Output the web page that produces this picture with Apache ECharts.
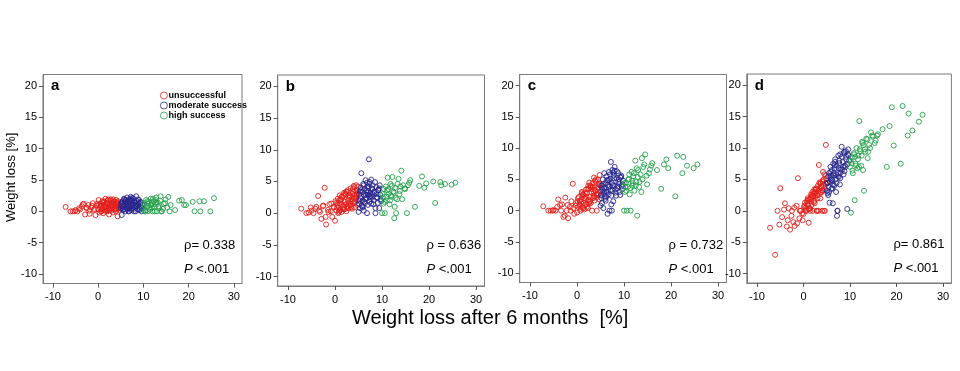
<!DOCTYPE html>
<html>
<head>
<meta charset="utf-8">
<script src="https://cdn.jsdelivr.net/npm/echarts@6/dist/echarts.min.js"></script>
<style>html,body{margin:0;padding:0;background:#fff;}#c{width:960px;height:371px;}</style>
</head>
<body>
<div id="c"></div>
<script>
// ---- data ----
const panelLetters = ['a', 'b', 'c', 'd'];
const rhoTexts = ['ρ= 0.338', 'ρ = 0.636', 'ρ = 0.732', 'ρ= 0.861'];
const pTexts = ['<.001', '<.001', '<.001', '<.001'];
const groupNames = ['unsuccessful', 'moderate success', 'high success'];
const xTicks = [-10, 0, 10, 20, 30];
const yTicks = [-10, -5, 0, 5, 10, 15, 20];

// weight loss after 6 months (x), shared by all panels
const xRed = [-7.2,-6.1,-5.6,-5.0,-4.6,-4.0,-3.6,-3.2,-2.9,-2.5,-2.2,-1.9,-1.5,-1.2,-0.9,-0.6,-0.3,0.0,0.1,0.3,0.4,0.6,0.7,0.9,1.0,1.1,1.3,1.4,1.6,1.7,1.9,2.0,2.1,2.3,2.4,2.5,2.7,2.8,2.9,3.1,3.2,3.3,3.5,3.6,3.7,3.9,4.0,4.1,4.2,4.3,4.4,4.5,4.6,4.7,4.8,4.9,0.5,1.5,2.6,3.8,
  0.2,0.8,1.2,1.8,2.2,2.6,3.0,3.4,3.8,4.2,4.6,0.6,1.0,1.4,2.0,2.4,2.8,3.2,3.6,4.0,4.4,4.8,-0.2,-0.8,-1.4,-2.0,-2.6,-3.4,-4.2,-5.2,0.9,1.7,2.5,3.3,4.1,4.9,1.3,2.1,2.9,3.7];
const xBlue = [5.0,5.1,5.2,5.3,5.4,5.5,5.6,5.7,5.8,5.9,6.0,6.1,6.2,6.3,6.4,6.5,6.6,6.7,6.8,6.9,7.0,7.1,7.2,7.3,7.4,7.5,7.6,7.7,7.8,7.9,8.0,8.2,8.4,8.6,8.8,9.0,9.2,9.4,9.6,9.8,
  5.2,5.5,5.8,6.1,6.4,6.7,7.0,7.3,7.6,7.9,8.2,8.5,8.8,9.1,9.4,9.7,5.3,5.9,6.5,7.1,7.7,8.3,8.9,9.5,6.2,6.8,7.4,8.0,8.6,9.2];
const xGreen = [10.0,10.2,10.4,10.6,10.8,11.0,11.2,11.4,11.6,11.8,12.0,12.2,12.4,12.6,12.8,13.0,13.2,13.5,13.8,14.1,14.5,14.9,15.3,15.8,16.0,17.0,17.9,18.5,19.0,19.4,20.9,21.3,22.4,22.6,23.4,24.8,25.6,
  10.1,10.5,10.9,11.3,11.7,12.1,12.5,12.9,13.3,13.7,14.3,14.8,15.5,10.3,11.1,11.9,12.7,13.9];

// panel a
const yRedA = [0.7,0.0,0.0,0.2,0.0,0.3,0.8,1.2,-0.5,0.5,1.0,-0.4,0.6,1.3,0.2,-0.6,0.9,0.3,1.8,-0.2,0.7,1.2,0.0,1.6,0.5,-0.3,1.0,0.2,2.0,0.8,1.4,0.0,1.7,0.4,-0.5,1.1,0.6,1.9,0.1,1.3,0.7,-0.2,1.5,0.4,1.0,0.0,1.8,0.8,1.2,-0.8,0.5,1.6,0.2,1.0,0.6,1.3,0.9,0.1,0.4,1.1,
  1.1,0.3,1.5,0.6,1.9,0.2,1.0,1.6,0.4,1.3,0.8,0.0,1.4,0.7,1.2,0.2,1.7,0.9,0.3,1.5,0.6,1.0,1.2,0.4,0.9,0.1,0.6,1.1,0.5,0.0,0.5,1.2,0.8,1.9,0.3,0.7,1.6,0.1,1.4,0.9];
const yBlueA = [0.5,1.2,-0.6,0.8,1.6,0.2,1.0,2.0,0.4,1.4,0.0,1.8,0.7,1.1,2.2,0.3,1.5,0.9,0.0,1.9,1.3,0.6,2.3,0.2,1.0,1.7,0.5,2.1,1.2,0.0,1.5,0.8,2.4,1.1,0.3,1.8,0.7,1.3,0.0,1.0,
  1.4,0.3,1.9,0.6,1.2,0.0,1.7,0.9,2.1,0.4,1.3,0.8,1.9,0.2,1.5,0.6,0.9,1.6,0.4,2.0,1.1,0.0,1.4,0.7,1.2,0.5,1.8,0.9,1.6,0.4];
const yGreenA = [0.5,1.3,0.0,1.8,0.8,0.0,1.5,0.3,2.0,1.0,0.0,1.6,0.7,1.2,2.2,0.0,1.4,0.5,2.4,0.0,1.2,1.9,0.6,0.0,1.0,0.2,1.7,1.8,1.0,1.0,1.5,0.0,1.6,0.0,1.6,0.0,2.1,
  1.0,0.2,1.6,0.6,1.1,2.0,0.0,1.4,0.8,1.7,0.4,1.3,2.3,0.0,1.2,0.6,1.8,0.0];
// panel b
const yRedB = [0.7,0.0,0.1,0.4,0.0,1.0,2.7,0.2,-0.9,1.2,4.0,-1.8,0.5,1.4,0.3,-0.6,1.0,-1.2,1.9,0.4,0.9,2.3,0.0,1.6,2.8,0.5,1.4,0.2,2.5,1.0,3.2,0.6,1.8,2.9,0.3,1.5,3.6,2.0,0.8,2.6,1.2,3.9,2.2,0.7,3.0,1.6,4.3,2.4,0.9,3.5,1.8,4.4,2.7,1.3,3.2,2.1,1.5,2.6,1.1,3.4,
  1.6,0.2,2.2,0.6,3.1,1.0,2.4,0.9,3.8,1.7,3.0,1.2,0.4,2.6,1.3,3.4,0.8,2.7,1.9,4.1,2.3,3.6,0.9,1.5,0.2,-0.6,1.1,0.4,0.7,0.9,2.0,0.7,3.3,1.5,2.9,4.2,2.1,3.0,1.6,2.5];
const yBlueB = [0.2,1.5,3.0,0.8,2.4,4.0,6.3,1.2,3.3,2.0,4.6,0.4,2.8,3.8,1.6,5.2,2.4,3.6,0.0,4.2,2.9,3.5,8.5,1.8,4.9,3.1,2.2,5.3,3.9,2.6,4.4,1.4,3.2,0.0,4.1,2.5,3.6,0.8,2.9,1.9,
  2.0,3.6,1.0,4.4,2.2,3.3,1.3,4.6,2.7,3.8,2.0,4.9,3.0,1.6,3.9,2.2,3.4,0.9,2.9,4.0,1.5,3.4,2.4,4.4,1.8,4.8,2.6,3.0,0.8,3.7];
const yGreenB = [0.0,2.5,3.8,0.0,4.2,2.0,5.6,3.0,1.4,4.6,2.6,5.7,3.4,-0.8,4.0,0.0,2.2,5.4,3.5,6.7,4.4,3.8,0.0,4.8,5.2,1.0,4.3,5.8,4.0,4.7,5.0,1.6,4.9,4.4,4.6,4.5,4.8,
  3.0,1.8,2.6,3.8,2.0,4.3,3.2,2.4,4.6,3.0,2.2,3.9,4.4,1.5,3.6,2.8,1.0,4.2];
// panel c
const yRedC = [0.7,0.0,0.0,0.1,0.0,1.8,0.9,1.0,-1.0,2.1,0.0,-1.2,0.6,1.5,4.3,-0.5,0.8,-0.3,1.5,0.6,2.2,0.9,0.0,1.8,3.0,0.5,1.3,2.5,0.2,2.0,3.4,1.0,2.8,0.4,1.7,3.6,2.3,4.0,1.2,2.9,0.0,3.8,2.4,5.3,1.6,3.2,4.6,2.1,0.0,3.7,5.0,2.6,4.2,1.8,5.7,3.0,1.1,2.0,4.5,3.3,
  2.0,0.3,2.6,1.0,3.5,1.4,3.9,2.0,4.8,2.5,3.6,1.6,2.8,0.4,2.2,4.0,1.5,3.4,2.9,5.0,2.7,4.3,1.2,0.4,0.0,0.9,-0.8,0.0,0.6,0.0,1.4,2.9,1.1,4.4,2.7,4.0,2.5,0.6,3.8,2.2];
const yBlueC = [0.8,2.5,4.0,1.2,3.3,5.0,0.4,2.8,6.0,3.6,1.9,4.5,2.2,5.5,3.0,-0.5,4.8,2.6,6.2,0.0,3.9,5.1,7.8,2.4,4.4,6.5,3.2,1.5,5.6,4.0,7.0,2.9,5.2,3.6,6.0,4.3,2.5,5.4,3.4,4.8,
  2.0,4.2,3.1,1.6,4.9,3.8,5.8,1.0,4.1,5.2,3.4,6.3,4.6,3.0,5.6,4.2,3.7,2.3,4.1,3.3,6.1,2.4,5.0,3.9,3.0,4.9,0.0,6.4,3.9,5.3];
const yGreenC = [0.0,3.0,4.5,0.0,3.8,5.0,2.6,0.0,6.2,4.0,5.5,3.2,8.0,4.6,-0.8,6.5,3.8,5.8,8.4,7.0,9.0,4.2,6.0,7.2,7.6,6.5,3.5,7.4,8.2,6.8,2.3,8.8,6.0,8.6,7.2,6.8,7.4,
  4.4,3.2,5.0,3.6,4.8,6.0,4.0,5.4,4.6,3.0,7.4,5.6,6.6,3.8,5.8,4.4,6.8,5.0];
// panel d
const yRedD = [-2.7,-7.0,0.0,3.6,-1.0,1.2,-2.5,0.4,-3.0,0.0,-1.8,-2.4,0.8,5.2,-1.2,0.0,-0.4,-0.5,0.6,1.3,0.0,0.3,1.5,2.0,0.9,-1.9,1.8,0.4,2.6,1.5,3.0,0.0,2.3,3.4,1.2,2.8,3.6,0.0,2.5,4.0,3.1,7.3,3.5,2.0,4.4,3.8,0.0,4.6,3.2,5.0,4.1,5.8,0.0,4.4,10.5,5.2,0.5,2.1,2.4,3.9,
  0.8,1.0,0.3,2.5,1.4,3.4,2.0,4.5,2.9,6.2,3.6,0.0,1.8,0.0,2.4,1.6,3.5,0.0,4.4,3.3,0.0,5.6,-1.5,0.0,-2.0,0.5,-0.8,-1.5,0.2,-2.2,1.6,0.9,3.0,2.6,4.8,4.3,0.4,2.8,0.0,3.0];
const yBlueD = [3.2,4.5,2.8,5.5,3.8,6.0,1.3,4.6,7.0,5.2,3.5,6.5,4.8,1.2,7.5,5.6,4.0,6.8,8.2,5.0,3.0,7.2,-0.8,0.0,6.0,8.8,5.4,7.6,4.2,9.0,6.6,10.2,7.8,5.8,9.4,7.0,8.6,0.3,9.8,8.0,
  4.4,3.0,6.2,5.0,4.2,7.3,5.8,0.0,6.8,5.2,8.6,7.0,6.3,9.5,7.4,8.8,2.5,5.6,6.0,4.4,8.0,6.6,7.2,9.0,3.6,7.8,5.5,6.1,9.2,8.2];
const yGreenD = [7.0,-0.3,8.5,6.0,9.2,1.7,7.5,10.0,6.8,8.8,14.3,9.5,7.2,11.0,6.5,3.2,9.8,11.5,8.4,10.5,12.5,11.8,10.8,12.0,12.2,13.0,7.0,13.5,16.5,10.4,7.5,16.7,12.0,15.5,12.8,14.2,15.3,
  8.0,6.4,9.0,7.2,8.2,9.8,8.8,10.5,9.4,11.4,10.0,12.0,11.2,7.6,8.6,7.0,10.8,9.4];

const panelY = [
  [yRedA, yBlueA, yGreenA],
  [yRedB, yBlueB, yGreenB],
  [yRedC, yBlueC, yGreenC],
  [yRedD, yBlueD, yGreenD]
];
const groupX = [xRed, xBlue, xGreen];

// ---- layout / style ----
const colors = ['#e3201c', '#26268c', '#25a04c'];
const grids = [
  {left: 43, top: 74.5, width: 199, height: 209},
  {left: 277.7, top: 75, width: 206.8, height: 211},
  {left: 519.7, top: 74.5, width: 206.8, height: 208},
  {left: 746.8, top: 74, width: 204.6, height: 209}
];
const frameColor = '#7a7a7a';
const font = 'Arial, "Liberation Sans", sans-serif';

const zip = (xs, ys) => xs.map((x, i) => [x, ys[i]]);

const option = {
  animation: false,
  backgroundColor: '#fff',
  grid: grids.map(g => Object.assign({show: true, borderColor: frameColor, borderWidth: 1, backgroundColor: 'transparent'}, g)),
  xAxis: grids.map((g, i) => ({
    gridIndex: i, type: 'value', min: -12.2, max: 31.8,
    axisLine: {show: true, onZero: false, lineStyle: {color: frameColor, width: 1}},
    axisTick: {show: true, length: 4, customValues: xTicks, lineStyle: {color: '#555'}},
    axisLabel: {customValues: xTicks, fontSize: 11, color: '#000', fontFamily: font, margin: 8},
    splitLine: {show: false}
  })),
  yAxis: grids.map((g, i) => ({
    gridIndex: i, type: 'value', min: -11.5, max: 21.8,
    axisLine: {show: true, onZero: false, lineStyle: {color: frameColor, width: 1}},
    axisTick: {show: true, length: 4, customValues: yTicks, lineStyle: {color: '#555'}},
    axisLabel: {customValues: yTicks, fontSize: 11, color: '#000', fontFamily: font, margin: 6},
    splitLine: {show: false}
  })),
  legend: {
    orient: 'vertical', left: 155, top: 86,
    itemWidth: 7, itemHeight: 7, itemGap: 1,
    data: groupNames.map((n, i) => ({
      name: n, icon: 'circle',
      itemStyle: {color: 'rgba(255,255,255,0)', borderColor: colors[i], borderWidth: 0.8}
    })),
    textStyle: {fontSize: 9, fontWeight: 'bold', color: '#000', fontFamily: font, padding: [0, 0, 0, -4]}
  },
  series: [],
  graphic: []
};

panelY.forEach((ys, p) => {
  ys.forEach((yArr, g) => {
    option.series.push({
      name: groupNames[g], type: 'scatter', xAxisIndex: p, yAxisIndex: p,
      symbol: 'circle', symbolSize: 5,
      itemStyle: {color: 'rgba(255,255,255,0)', borderColor: colors[g], borderWidth: 0.9, opacity: 1},
      emphasis: {disabled: true},
      data: zip(groupX[g], yArr)
    });
  });
  const gr = grids[p];
  option.graphic.push({
    type: 'text', left: gr.left + 8, top: gr.top + 4,
    style: {text: panelLetters[p], font: 'bold 15px ' + font, fill: '#000'}
  });
  option.graphic.push({
    type: 'text', left: gr.left + gr.width - 58, top: gr.top + 164,
    style: {text: rhoTexts[p], font: '13px ' + font, fill: '#000'}
  });
  option.graphic.push({
    type: 'text', left: gr.left + gr.width - 58, top: gr.top + 188,
    style: {
      text: '{i|P} ' + pTexts[p], font: '13px ' + font, fill: '#000',
      rich: {i: {fontStyle: 'italic', fontSize: 13, fontFamily: font, fill: '#000'}}
    }
  });
});

option.graphic.push({
  type: 'text', left: 352, top: 308,
  style: {text: 'Weight loss after 6 months  [%]', font: '20px ' + font, fill: '#000'}
});
option.graphic.push({
  type: 'text', x: 5, y: 222, rotation: Math.PI / 2,
  style: {text: 'Weight loss [%]', font: '13px ' + font, fill: '#000'}
});

const chart = echarts.init(document.getElementById('c'), null, {renderer: 'canvas'});
chart.setOption(option);
</script>
</body>
</html>
